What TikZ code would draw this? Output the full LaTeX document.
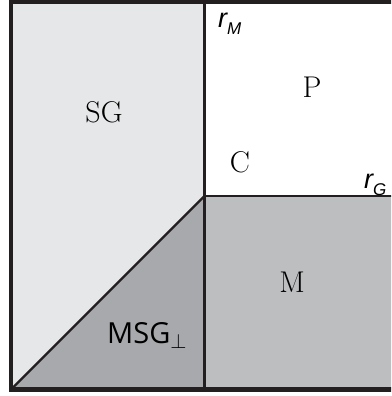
\documentclass[tikz,border=0pt]{standalone}
\usepackage{fontspec}
\newfontfamily\labelsans{Open Sans}
\newfontfamily\radiusfont{Liberation Sans}
\definecolor{lineBlack}{HTML}{231F20}
\definecolor{sgGray}{HTML}{E6E7E8}
\definecolor{msgGray}{HTML}{A7A9AC}
\definecolor{mGray}{HTML}{BCBEC0}
\newcommand{\radiuslabel}[1]{{\radiusfont\itshape r\raisebox{-7pt}{\fontsize{17}{17}\selectfont #1}}}

\begin{document}
\begin{tikzpicture}[x=1pt, y=-1pt,
  phase/.style={font=\fontsize{30}{36}\selectfont, inner sep=0pt},
  radius/.style={font=\fontsize{27}{32}\selectfont, inner sep=0pt, anchor=base west},
  border/.style={draw=lineBlack, line width=4.6pt},
  divider/.style={draw=lineBlack, line width=2.3pt}]
\useasboundingbox (0,0) rectangle (391,396);
\clip (0,0) rectangle (391,396);
\coordinate (tl) at (11,2);
\coordinate (tm) at (204.5,2);
\coordinate (tr) at (400,2);
\coordinate (cm) at (204.5,196);
\coordinate (cr) at (400,196);
\coordinate (bl) at (11,389.5);
\coordinate (bm) at (204.5,389.5);
\coordinate (br) at (400,389.5);
% regions
\fill[white] (0,0) rectangle (391,396);
\fill[sgGray] (tl) -- (tm) -- (cm) -- (bl) -- cycle;
\fill[msgGray] (bl) -- (cm) -- (bm) -- cycle;
\fill[mGray] (cm) rectangle (br);
% boundaries
\draw[divider] (tm) -- (bm);
\draw[divider] (cm) -- (cr);
\draw[divider] (bl) -- (cm);
\draw[border] (tr) -- (tl) -- (bl) -- (br);
% labels
\node[phase] (sg) at (104,112.5) {SG};
\node[phase] (p) at (312,87) {P};
\node[phase] (c) at (240,162) {C};
\node[phase] (m) at (292,282) {M};
\node[inner sep=0pt, anchor=base west, font=\labelsans\fontsize{29}{34}\selectfont] (msg) at (107,343) {MSG$_\perp$};
\node[radius] (rm) at (218,28) {\radiuslabel{M}};
\node[radius] (rg) at (364,188) {\radiuslabel{G}};
\end{tikzpicture}
\end{document}
